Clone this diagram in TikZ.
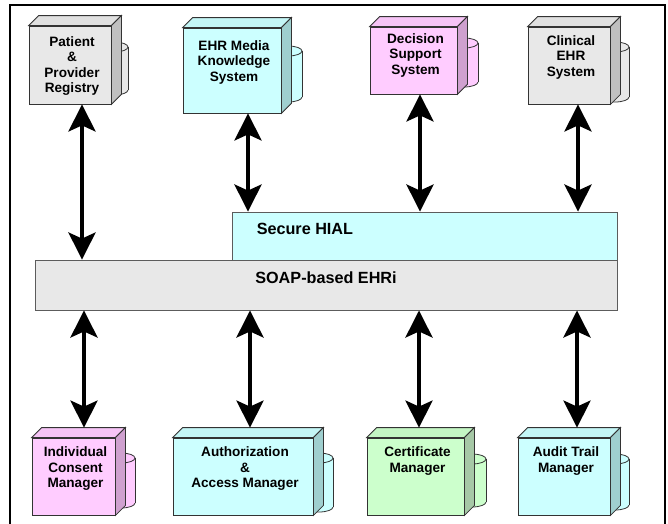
\documentclass[tikz,border=0pt]{standalone}
\usepackage{fontspec}
\setmainfont{Liberation Sans}
\usetikzlibrary{arrows.meta,calc}
\definecolor{greyF}{HTML}{E8E8E8}\definecolor{greyS}{HTML}{C0C0C0}\definecolor{greyT}{HTML}{E0E0E0}
\definecolor{cyanF}{HTML}{CCFFFF}\definecolor{cyanS}{HTML}{9FCFCF}\definecolor{cyanT}{HTML}{C4F6F6}
\definecolor{pinkF}{HTML}{FFCCFF}\definecolor{pinkS}{HTML}{CFA0CF}\definecolor{pinkT}{HTML}{F6C4F6}
\definecolor{greenF}{HTML}{CCFFCC}\definecolor{greenS}{HTML}{A6C8A6}\definecolor{greenT}{HTML}{C4F6C4}
\definecolor{edge}{HTML}{333333}
\tikzset{
  face/.style={draw=edge, line width=0.8pt, inner sep=0pt},
  cubetext/.style={anchor=north, align=center, inner sep=0pt, font=\fontsize{13.6}{15.5}\selectfont\bfseries},
  lbl/.style={inner sep=0pt, font=\fontsize{16.2}{18}\selectfont\bfseries},
  layer/.style={draw=edge!80, line width=0.9pt, inner sep=0pt},
  dbl/.style={line width=4pt, {Stealth[length=27pt,width=27pt,inset=6pt]}-{Stealth[length=27pt,width=27pt,inset=6pt]}},
}
% cylinder: right edge, top, bottom, colour
\newcommand\mkcyl[4]{%
  \filldraw[face, fill=#4F] ({#1-14},#3) ellipse [x radius=14pt, y radius=5pt];
  \fill[#4F] ({#1-28},#2) rectangle (#1,#3);
  \draw[face] ({#1-28},#2) -- ({#1-28},#3) (#1,#2) -- (#1,#3);
  \filldraw[face, fill=#4F] ({#1-14},#2) ellipse [x radius=14pt, y radius=5pt];
}
% cube: name, cx, cy, w, h, colour, text, text top offset
\newcommand\mkcube[8]{%
  \node[face, fill=#6F, minimum width=#4pt, minimum height=#5pt] (#1) at (#2,#3) {};
  \filldraw[face, fill=#6T] (#1.north west) -- ++(10,-10) -- ($(#1.north east)+(10,-10)$) -- (#1.north east) -- cycle;
  \filldraw[face, fill=#6S] (#1.north east) -- ++(10,-10) -- ($(#1.south east)+(10,-10)$) -- (#1.south east) -- cycle;
  \node[cubetext] (#1t) at ($(#1.north)+(2,#8)$) {#7};
}
\begin{document}
\begin{tikzpicture}[x=1pt,y=-1pt]
\useasboundingbox (0,0) rectangle (668,523);
\clip (0,0) rectangle (668,523);
\fill[white] (0,0) rectangle (668,523);
\draw[line width=1.5pt] (10,5) rectangle (665,540);

% top row
\mkcyl{128}{47}{90}{grey}
\mkcube{pat}{70}{65}{82}{78}{grey}{Patient\\\&\\Provider\\Registry}{10.5}
\mkcyl{302}{51}{97}{cyan}
\mkcube{ehr}{232}{70.5}{98}{85}{cyan}{EHR Media\\Knowledge\\System}{12.5}
\mkcyl{478}{43}{82}{pink}
\mkcube{dss}{413.5}{60.5}{87}{67}{pink}{Decision\\Support\\System}{6.5}
\mkcyl{629}{47}{97}{grey}
\mkcube{cli}{569}{65.5}{82}{77}{grey}{Clinical\\EHR\\System}{8.5}

% bottom row
\mkcyl{135}{458}{503}{pink}
\mkcube{icm}{73.5}{476.5}{83}{77}{pink}{Individual\\Consent\\Manager}{9}
\mkcyl{333}{458}{507}{cyan}
\mkcube{aam}{243}{476.5}{140}{77}{cyan}{Authorization\\\&\\Access Manager}{9}
\mkcyl{486}{459}{502}{green}
\mkcube{cer}{415.5}{476.5}{97}{77}{green}{Certificate\\Manager}{9}
\mkcyl{629}{459}{505}{cyan}
\mkcube{atm}{564}{476.5}{92}{77}{cyan}{Audit Trail\\Manager}{9}

% layers
\node[layer, fill=greyF, minimum width=582pt, minimum height=50pt] (soap) at (326,285) {};
\node[layer, fill=cyanF, minimum width=385pt, minimum height=48pt] (hial) at (424.5,236) {};
\node[lbl, anchor=west] (hialt) at ($(hial.west)+(25,-7.5)$) {Secure HIAL};
\node[lbl] (soapt) at ($(soap.center)+(0,-7.5)$) {SOAP-based EHRi};

% arrow columns
\coordinate (c1) at (82,0);
\coordinate (c2) at (248,0);
\coordinate (c3) at (420,0);
\coordinate (c4) at (578,0);
\coordinate (d1) at (84,0);
\coordinate (d2) at (250,0);
\coordinate (d3) at (419,0);
\coordinate (d4) at (577,0);

\draw[dbl] (pat.south -| c1) -- (soap.north -| c1);
\draw[dbl] (ehr.south -| c2) -- (hial.north -| c2);
\draw[dbl] (dss.south -| c3) -- (hial.north -| c3);
\draw[dbl] (cli.south -| c4) -- (hial.north -| c4);

\draw[dbl] (soap.south -| d1) -- ($(icm.north -| d1)+(0,-10)$);
\draw[dbl] (soap.south -| d2) -- ($(aam.north -| d2)+(0,-10)$);
\draw[dbl] (soap.south -| d3) -- ($(cer.north -| d3)+(0,-10)$);
\draw[dbl] (soap.south -| d4) -- ($(atm.north -| d4)+(0,-10)$);
\end{tikzpicture}
\end{document}
